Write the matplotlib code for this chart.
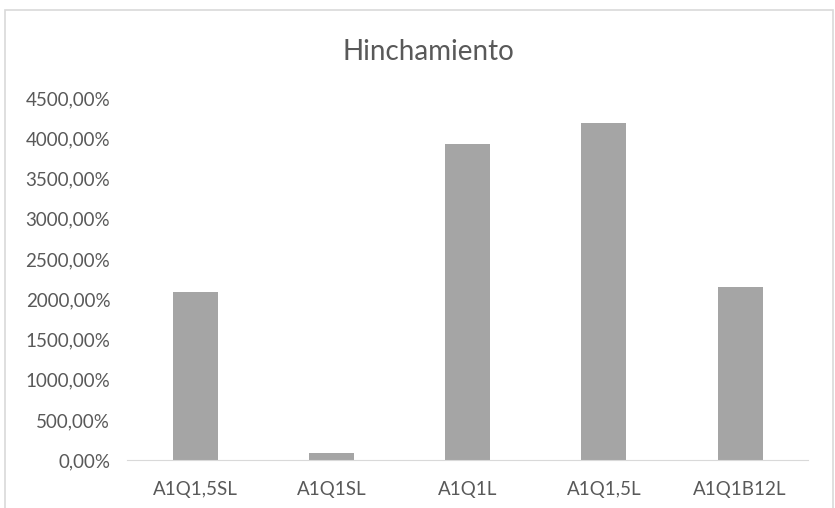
import matplotlib.pyplot as plt
from matplotlib.patches import Rectangle

categories = ["A1Q1,5SL", "A1Q1SL", "A1Q1L", "A1Q1,5L", "A1Q1B12L"]
values = [2090, 95, 3925, 4190, 2150]  # percent
yticks = [0, 500, 1000, 1500, 2000, 2500, 3000, 3500, 4000, 4500]

plt.rcParams['font.family'] = ['Lato', 'DejaVu Sans']

fig = plt.figure(figsize=(8.35, 5.08), dpi=100)
ax = fig.add_axes([0.152, 0.094, 0.816, 0.713])

# outer chart border like Excel
fig.patches.append(Rectangle((5 / 835, -0.05), 828 / 835, 1.05 - 10 / 508,
                             transform=fig.transFigure, fill=False,
                             edgecolor="#D9D9D9", linewidth=1.2))

ax.bar(range(len(categories)), values, width=0.33, color="#A5A5A5")
ax.set_xlim(-0.5, len(categories) - 0.5)
ax.set_ylim(0, 4500)
ax.set_yticks(yticks)
ax.set_yticklabels(["{:.2f}%".format(v).replace(".", ",") for v in yticks])
ax.set_xticks(range(len(categories)))
ax.set_xticklabels(categories)

for s in ["top", "right", "left"]:
    ax.spines[s].set_visible(False)
ax.spines["bottom"].set_color("#D9D9D9")
ax.tick_params(axis="both", length=0, labelsize=13.5, colors="#595959")
ax.tick_params(axis="y", pad=12)
ax.tick_params(axis="x", pad=15)

fig.text(0.513, 0.898, "Hinchamiento", ha="center", va="center",
         fontsize=20, color="#595959")

fig.savefig("out.png", dpi=100)
